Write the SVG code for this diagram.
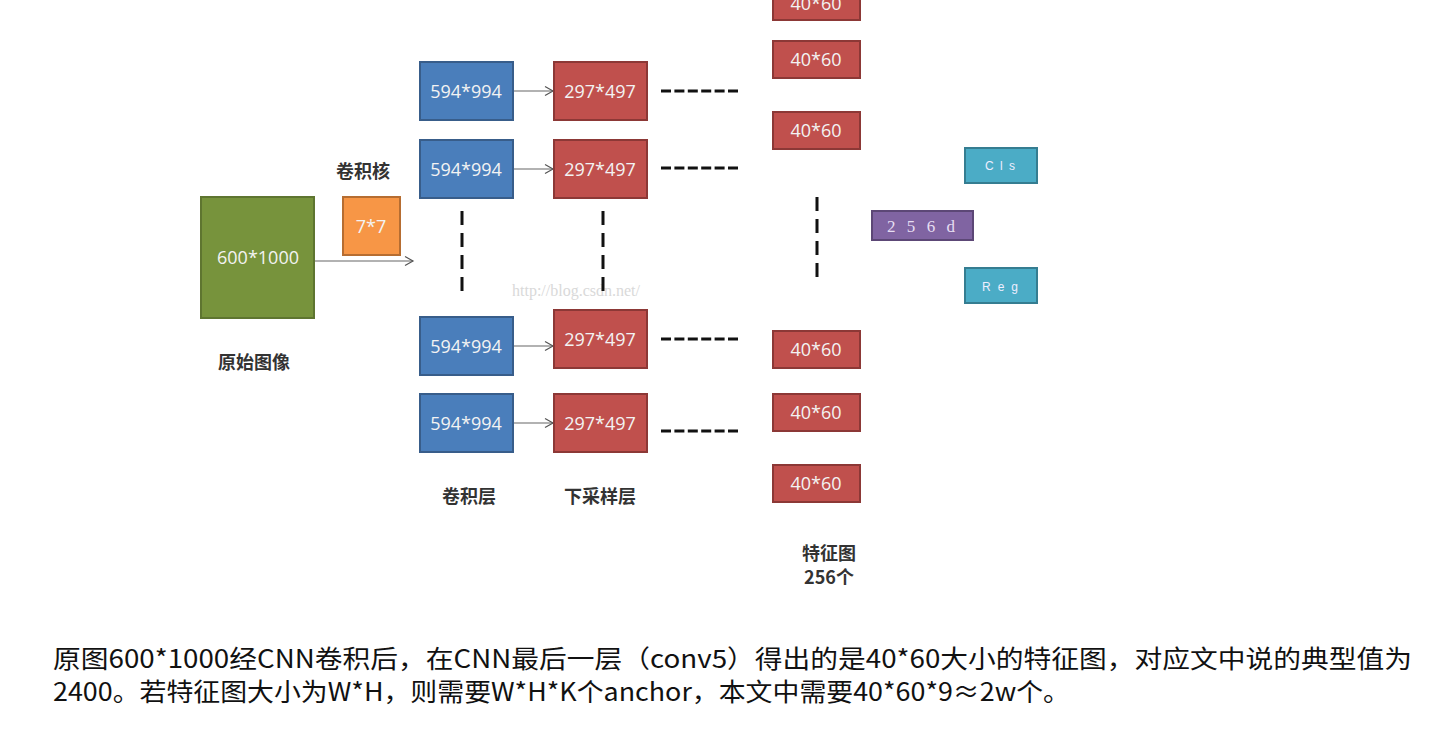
<svg xmlns="http://www.w3.org/2000/svg" width="1434" height="747" viewBox="0 0 1434 747">
<defs>
<marker id="arr" markerWidth="12" markerHeight="12" refX="10" refY="6" orient="auto" markerUnits="userSpaceOnUse">
<path d="M2,1.5 L10,6 L2,10.5" fill="none" stroke="#555" stroke-width="1.2"/>
</marker>
</defs>
<style>
.bx{stroke-width:2}
.green{fill:#77933c;stroke:#5e7530}
.orange{fill:#f79646;stroke:#b66d31}
.blue{fill:#4a7ebb;stroke:#385d8a}
.red{fill:#c0504d;stroke:#8c3836}
.purple{fill:#8064a2;stroke:#5c4776}
.teal{fill:#4bacc6;stroke:#357d91}
.bt{font-family:"Open Sans","Liberation Sans",sans-serif;font-size:18px;fill:#f3f3f3;text-anchor:middle;dominant-baseline:central}
.lab{font-family:"Noto Sans CJK SC",sans-serif;font-size:18px;font-weight:bold;fill:#333;text-anchor:middle}
.conn{stroke:#666;stroke-width:1.2;fill:none}
.dash{stroke:#111;stroke-width:3;fill:none}
.body{font-family:"Noto Sans CJK SC",sans-serif;font-size:25px;fill:#111}
.sm{font-family:"Liberation Sans",sans-serif;font-size:12px;fill:#eef;text-anchor:middle;dominant-baseline:central}
</style>
<rect width="1434" height="747" fill="#fff"/>
<text x="512" y="296" font-family="Liberation Serif,serif" font-size="16" fill="#d9d9d9">http://blog.csdn.net/</text>
<g id="connectors">
<line class="conn" x1="315" y1="261" x2="413" y2="261" marker-end="url(#arr)"/>
<line class="conn" x1="514" y1="91" x2="553" y2="91" marker-end="url(#arr)"/>
<line class="conn" x1="514" y1="169" x2="553" y2="169" marker-end="url(#arr)"/>
<line class="conn" x1="514" y1="346" x2="553" y2="346" marker-end="url(#arr)"/>
<line class="conn" x1="514" y1="423" x2="553" y2="423" marker-end="url(#arr)"/>
<g stroke-dasharray="10,3.4">
<line class="dash" x1="661" y1="91" x2="738" y2="91"/>
<line class="dash" x1="661" y1="168" x2="738" y2="168"/>
<line class="dash" x1="661" y1="339" x2="738" y2="339"/>
<line class="dash" x1="661" y1="431" x2="738" y2="431"/>
</g>
<g stroke-dasharray="14,8">
<line class="dash" x1="462" y1="211" x2="462" y2="297"/>
<line class="dash" x1="603" y1="211" x2="603" y2="297"/>
<line class="dash" x1="817" y1="197" x2="817" y2="283"/>
</g>
</g>
<g id="orig"><rect class="bx green" x="201" y="197" width="113" height="121"/><text class="bt" x="258" y="257" font-size="19">600*1000</text></g>
<g id="kernel"><rect class="bx orange" x="343" y="197" width="57" height="58"/><text class="bt" x="371" y="226">7*7</text></g>
<g id="conv1"><rect class="bx blue" x="420" y="62" width="93" height="58"/><text class="bt" x="466" y="91">594*994</text></g>
<g id="conv2"><rect class="bx blue" x="420" y="140" width="93" height="58"/><text class="bt" x="466" y="169">594*994</text></g>
<g id="conv3"><rect class="bx blue" x="420" y="317" width="93" height="58"/><text class="bt" x="466" y="346">594*994</text></g>
<g id="conv4"><rect class="bx blue" x="420" y="394" width="93" height="58"/><text class="bt" x="466" y="423">594*994</text></g>
<g id="pool1"><rect class="bx red" x="554" y="62" width="93" height="58"/><text class="bt" x="600" y="91">297*497</text></g>
<g id="pool2"><rect class="bx red" x="554" y="140" width="93" height="58"/><text class="bt" x="600" y="169">297*497</text></g>
<g id="pool3"><rect class="bx red" x="554" y="310" width="93" height="58"/><text class="bt" x="600" y="339">297*497</text></g>
<g id="pool4"><rect class="bx red" x="554" y="394" width="93" height="58"/><text class="bt" x="600" y="423">297*497</text></g>
<g id="f1"><rect class="bx red" x="773" y="-17" width="87" height="37"/><text class="bt" x="816" y="3">40*60</text></g>
<g id="f2"><rect class="bx red" x="773" y="41" width="87" height="37"/><text class="bt" x="816" y="59">40*60</text></g>
<g id="f3"><rect class="bx red" x="773" y="112" width="87" height="37"/><text class="bt" x="816" y="130">40*60</text></g>
<g id="f4"><rect class="bx red" x="773" y="331" width="87" height="37"/><text class="bt" x="816" y="349">40*60</text></g>
<g id="f5"><rect class="bx red" x="773" y="394" width="87" height="37"/><text class="bt" x="816" y="412">40*60</text></g>
<g id="f6"><rect class="bx red" x="773" y="465" width="87" height="37"/><text class="bt" x="816" y="483">40*60</text></g>
<g id="d256"><rect class="bx purple" x="872" y="211" width="101" height="29"/><text x="921" y="226" font-family="Liberation Serif,serif" font-size="17" fill="#e6def2" text-anchor="middle" dominant-baseline="central" textLength="68" lengthAdjust="spacing">2 5 6 d</text></g>
<g id="cls"><rect class="bx teal" x="965" y="148" width="72" height="35"/><text class="sm" x="1000" y="166" textLength="30" lengthAdjust="spacing">C l s</text></g>
<g id="reg"><rect class="bx teal" x="965" y="268" width="72" height="35"/><text class="sm" x="1000" y="287" textLength="36" lengthAdjust="spacing">R e g</text></g>
<g id="labels">
<text class="lab" x="363" y="178">卷积核</text>
<text class="lab" x="254" y="369">原始图像</text>
<text class="lab" x="469" y="503">卷积层</text>
<text class="lab" x="600" y="503">下采样层</text>
<text class="lab" x="829" y="560">特征图</text>
<text class="lab" x="829" y="584">256个</text>
</g>
<g id="caption">
<text class="body" x="53" y="668" textLength="1359" lengthAdjust="spacingAndGlyphs">原图600*1000经CNN卷积后，在CNN最后一层（conv5）得出的是40*60大小的特征图，对应文中说的典型值为</text>
<text class="body" x="53" y="701" textLength="1017" lengthAdjust="spacingAndGlyphs">2400。若特征图大小为W*H，则需要W*H*K个anchor，本文中需要40*60*9≈2w个。</text>
</g>
</svg>
